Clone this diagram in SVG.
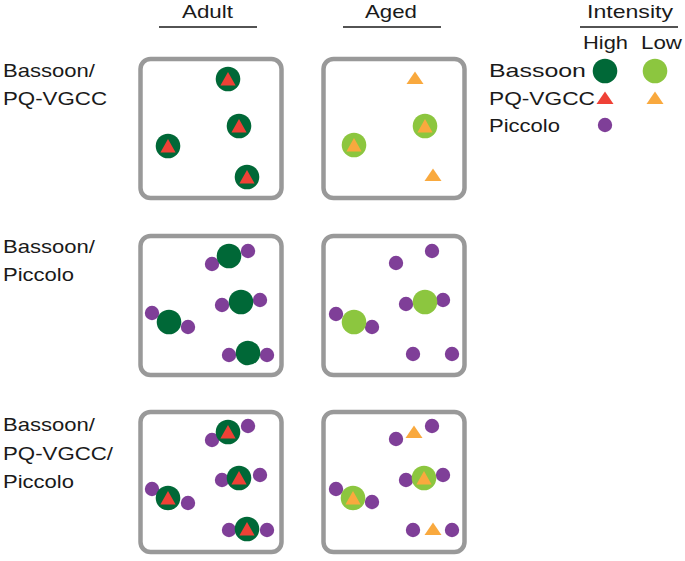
<svg xmlns="http://www.w3.org/2000/svg" xmlns:xlink="http://www.w3.org/1999/xlink" width="685" height="561" viewBox="0 0 685 561">
<style>
text{font-family:"Liberation Sans",Arial,sans-serif;font-size:19px;fill:#1a1a1a}
.box{fill:#fff;stroke:#999;stroke-width:4.5}
.rule{stroke:#1a1a1a;stroke-width:1.6}
.bh{fill:#006837}
.bl{fill:#8cc63f}
.th{fill:#ef4136}
.tl{fill:#f9a93e}
.pc{fill:#7f3f98}
</style>
<defs>
<circle id="b" r="12.3"/>
<circle id="p" r="7.2"/>
<path id="t" d="M0,-7 L7.6,6.4 L-7.6,6.4 Z"/>
<path id="ts" d="M0,-6.5 L8.5,6 L-8.5,6 Z"/>
</defs>
<g id="headers">
<text x="207.5" y="18" text-anchor="middle" textLength="51" lengthAdjust="spacingAndGlyphs">Adult</text>
<line class="rule" x1="159" y1="27" x2="257" y2="27"/>
<text x="391" y="18" text-anchor="middle" textLength="52" lengthAdjust="spacingAndGlyphs">Aged</text>
<line class="rule" x1="343" y1="27" x2="441" y2="27"/>
</g>
<g id="row-labels">
<text x="3" y="77" textLength="92" lengthAdjust="spacingAndGlyphs">Bassoon/</text>
<text x="3" y="105" textLength="104" lengthAdjust="spacingAndGlyphs">PQ-VGCC</text>
<text x="3" y="253" textLength="92" lengthAdjust="spacingAndGlyphs">Bassoon/</text>
<text x="3" y="281" textLength="71" lengthAdjust="spacingAndGlyphs">Piccolo</text>
<text x="3" y="431" textLength="92" lengthAdjust="spacingAndGlyphs">Bassoon/</text>
<text x="3" y="460" textLength="110" lengthAdjust="spacingAndGlyphs">PQ-VGCC/</text>
<text x="3" y="488" textLength="71" lengthAdjust="spacingAndGlyphs">Piccolo</text>
</g>
<g id="legend">
<text x="630" y="18" text-anchor="middle" textLength="86" lengthAdjust="spacingAndGlyphs">Intensity</text>
<line class="rule" x1="580" y1="27" x2="678" y2="27"/>
<text x="583" y="49" textLength="45" lengthAdjust="spacingAndGlyphs">High</text>
<text x="641" y="49" textLength="41" lengthAdjust="spacingAndGlyphs">Low</text>
<text x="489" y="77" textLength="97" lengthAdjust="spacingAndGlyphs">Bassoon</text>
<text x="489" y="105" textLength="106" lengthAdjust="spacingAndGlyphs">PQ-VGCC</text>
<text x="489" y="132" textLength="71" lengthAdjust="spacingAndGlyphs">Piccolo</text>
<use href="#b" x="605" y="71" class="bh"/>
<use href="#b" x="655" y="71" class="bl"/>
<use href="#ts" x="605" y="98" class="th"/>
<use href="#ts" x="655" y="98" class="tl"/>
<use href="#p" x="605" y="125" class="pc"/>
</g>
<g id="adult-bassoon-pqvgcc">
<rect class="box" x="140.5" y="59" width="141" height="139" rx="10"/>
<use href="#b" x="228" y="79" class="bh"/><use href="#t" x="228" y="79" class="th"/>
<use href="#b" x="239" y="126" class="bh"/><use href="#t" x="239" y="126" class="th"/>
<use href="#b" x="168" y="146" class="bh"/><use href="#t" x="168" y="146" class="th"/>
<use href="#b" x="247" y="177" class="bh"/><use href="#t" x="247" y="177" class="th"/>
</g>
<g id="aged-bassoon-pqvgcc">
<rect class="box" x="323.5" y="59" width="141" height="139" rx="10"/>
<use href="#ts" x="415" y="78" class="tl"/>
<use href="#b" x="425" y="126" class="bl"/><use href="#t" x="425" y="126" class="tl"/>
<use href="#b" x="354" y="145" class="bl"/><use href="#t" x="354" y="145" class="tl"/>
<use href="#ts" x="433" y="175" class="tl"/>
</g>
<g id="adult-bassoon-piccolo">
<rect class="box" x="140.5" y="236" width="141" height="139" rx="10"/>
<use href="#p" x="248" y="251" class="pc"/><use href="#p" x="212" y="264" class="pc"/>
<use href="#b" x="229" y="256" class="bh"/>
<use href="#p" x="222" y="305" class="pc"/><use href="#p" x="260" y="300" class="pc"/>
<use href="#b" x="241" y="302" class="bh"/>
<use href="#p" x="152" y="313" class="pc"/><use href="#p" x="188" y="327" class="pc"/>
<use href="#b" x="169" y="322" class="bh"/>
<use href="#p" x="229" y="355" class="pc"/><use href="#p" x="267" y="355" class="pc"/>
<use href="#b" x="248" y="353" class="bh"/>
</g>
<g id="aged-bassoon-piccolo">
<rect class="box" x="323.5" y="236" width="141" height="139" rx="10"/>
<use href="#p" x="432" y="251" class="pc"/><use href="#p" x="396" y="263" class="pc"/>
<use href="#p" x="406" y="304" class="pc"/><use href="#p" x="443" y="300" class="pc"/>
<use href="#b" x="425" y="302" class="bl"/>
<use href="#p" x="336" y="314" class="pc"/><use href="#p" x="372" y="327" class="pc"/>
<use href="#b" x="354" y="322" class="bl"/>
<use href="#p" x="413" y="354" class="pc"/><use href="#p" x="452" y="354" class="pc"/>
</g>
<g id="adult-bassoon-pqvgcc-piccolo">
<rect class="box" x="140.5" y="412" width="141" height="140" rx="10"/>
<use href="#p" x="248" y="426" class="pc"/><use href="#p" x="212" y="440" class="pc"/>
<use href="#b" x="228" y="432" class="bh"/><use href="#t" x="228" y="432" class="th"/>
<use href="#p" x="222" y="480" class="pc"/><use href="#p" x="260" y="475" class="pc"/>
<use href="#b" x="239" y="478" class="bh"/><use href="#t" x="239" y="478" class="th"/>
<use href="#p" x="152" y="489" class="pc"/><use href="#p" x="188" y="503" class="pc"/>
<use href="#b" x="168" y="498" class="bh"/><use href="#t" x="168" y="498" class="th"/>
<use href="#p" x="229" y="530" class="pc"/><use href="#p" x="267" y="530" class="pc"/>
<use href="#b" x="247" y="529" class="bh"/><use href="#t" x="247" y="529" class="th"/>
</g>
<g id="aged-bassoon-pqvgcc-piccolo">
<rect class="box" x="323.5" y="412" width="141" height="140" rx="10"/>
<use href="#p" x="432" y="426" class="pc"/><use href="#p" x="396" y="439" class="pc"/>
<use href="#ts" x="414" y="432" class="tl"/>
<use href="#p" x="406" y="480" class="pc"/><use href="#p" x="443" y="475" class="pc"/>
<use href="#b" x="424" y="478" class="bl"/><use href="#t" x="424" y="478" class="tl"/>
<use href="#p" x="336" y="489" class="pc"/><use href="#p" x="372" y="502" class="pc"/>
<use href="#b" x="353" y="498" class="bl"/><use href="#t" x="353" y="498" class="tl"/>
<use href="#p" x="413" y="530" class="pc"/><use href="#p" x="452" y="530" class="pc"/>
<use href="#ts" x="433" y="529" class="tl"/>
</g>
<g id="connectors"></g>
</svg>
